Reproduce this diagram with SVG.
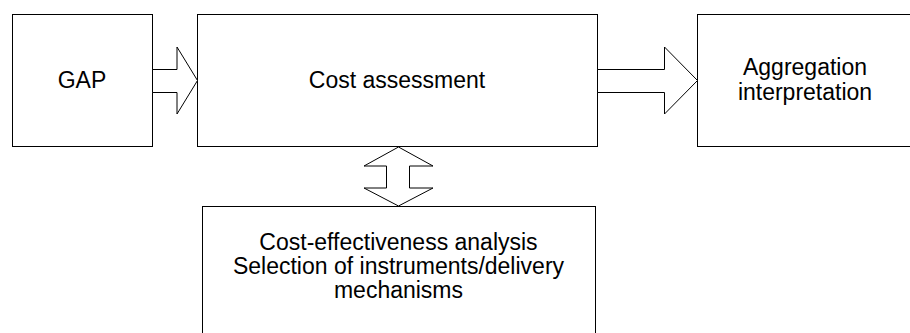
<svg xmlns="http://www.w3.org/2000/svg" width="910" height="333" viewBox="0 0 910 333">
  <style>
    .box { fill: #ffffff; stroke: #000000; stroke-width: 1; }
    .arrow { fill: #ffffff; stroke: #000000; stroke-width: 1; stroke-linejoin: miter; }
    .label { font-family: "Liberation Sans", Arial, sans-serif; font-size: 23px; fill: #000000; text-anchor: middle; }
  </style>
  <rect width="910" height="333" fill="#ffffff"/>

  <g id="gap">
    <rect class="box" x="12.5" y="14.5" width="140" height="132"/>
    <text class="label" x="82" y="88">GAP</text>
  </g>

  <g id="cost-assessment">
    <rect class="box" x="197.5" y="14.5" width="400" height="132"/>
    <text class="label" x="397" y="88">Cost assessment</text>
  </g>

  <g id="aggregation">
    <rect class="box" x="697.5" y="14.5" width="220" height="132"/>
    <text class="label" x="805" y="75">Aggregation</text>
    <text class="label" x="805" y="100">interpretation</text>
  </g>

  <g id="cost-effectiveness">
    <rect class="box" x="202.5" y="206.5" width="393" height="140"/>
    <text class="label" x="398.5" y="250">Cost-effectiveness analysis</text>
    <text class="label" x="398.5" y="274">Selection of instruments/delivery</text>
    <text class="label" x="398.5" y="298">mechanisms</text>
  </g>

  <g id="connectors">
    <polygon class="arrow" points="152.5,69.5 177,69.5 177,47 197.5,80.5 177,114 177,92.5 152.5,92.5"/>
    <polygon class="arrow" points="597.5,69.5 664.5,69.5 664.5,47 697.5,80.5 664.5,114 664.5,92.5 597.5,92.5"/>
    <polygon class="arrow" points="398.5,147 433,166 409.5,166 409.5,188 433,188 398.5,206 364,188 386.5,188 386.5,166 364,166"/>
  </g>
</svg>
